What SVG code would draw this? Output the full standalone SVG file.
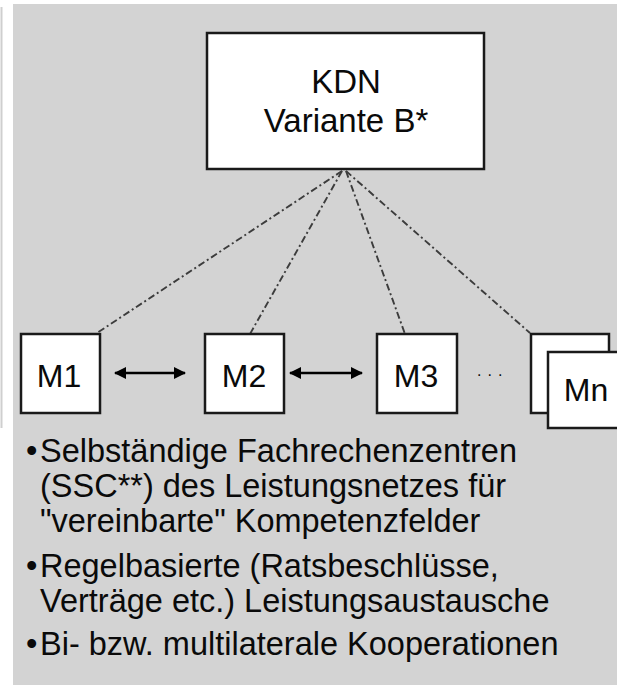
<svg xmlns="http://www.w3.org/2000/svg" width="617" height="685" viewBox="0 0 617 685">
<defs>
<style>
.box{fill:#fff;stroke:#1a1a1a;stroke-width:2.5}
.t{font-family:"Liberation Sans",Arial,sans-serif;fill:#0a0a0a}
.lbl{font-size:33px;text-anchor:middle}
.ml{font-size:32px;text-anchor:middle}
.bul{font-size:32.5px}
.dd{fill:none;stroke:#3c3c3c;stroke-width:1.9;stroke-dasharray:7 3 2 3}
.arr{stroke:#000;stroke-width:2.6;marker-start:url(#ah);marker-end:url(#ah)}
</style>
<marker id="ah" viewBox="0 0 12 12" refX="11" refY="6" markerWidth="13" markerHeight="12" orient="auto-start-reverse" markerUnits="userSpaceOnUse">
<path d="M0,0 L12,6 L0,12 z" fill="#000"/>
</marker>
</defs>
<rect x="0" y="0" width="617" height="685" fill="#fff"/>
<line x1="1.5" y1="7" x2="1.5" y2="428" stroke="#cfcfcf" stroke-width="2"/>
<rect x="13" y="4" width="604" height="681" fill="#d3d3d3"/>
<g id="connectors">
<line class="dd" x1="342" y1="171" x2="97" y2="333"/>
<line class="dd" x1="342" y1="171" x2="250" y2="334"/>
<line class="dd" x1="346" y1="171" x2="405" y2="334"/>
<line class="dd" x1="346" y1="171" x2="530" y2="333"/>
<line class="arr" x1="115" y1="373" x2="185" y2="373"/>
<line class="arr" x1="290" y1="373" x2="362" y2="373"/>
</g>
<g id="kdn">
<rect class="box" x="207" y="33" width="277" height="136"/>
<text class="t lbl" x="346" y="93">KDN</text>
<text class="t lbl" x="346" y="132">Variante B*</text>
</g>
<g id="m1">
<rect class="box" x="21" y="334" width="79" height="79"/>
<text class="t ml" x="59" y="387">M1</text>
</g>
<g id="m2">
<rect class="box" x="205" y="334" width="79" height="79"/>
<text class="t ml" x="244" y="387">M2</text>
</g>
<g id="m3">
<rect class="box" x="377" y="334" width="80" height="79"/>
<text class="t ml" x="416" y="387">M3</text>
</g>
<g id="dots">
<text class="t" x="477" y="376" font-size="16" letter-spacing="6" fill="#333">...</text>
</g>
<g id="mn">
<rect class="box" x="531" y="334" width="78" height="79"/>
<rect class="box" x="548" y="352" width="80" height="76"/>
<text class="t ml" x="586" y="401">Mn</text>
</g>
<g id="bullets">
<text class="t bul" x="26" y="462">•</text>
<text class="t bul" x="40" y="462">Selbständige Fachrechenzentren</text>
<text class="t bul" x="40" y="497">(SSC**) des Leistungsnetzes für</text>
<text class="t bul" x="40" y="532">"vereinbarte" Kompetenzfelder</text>
<text class="t bul" x="26" y="577">•</text>
<text class="t bul" x="40" y="577">Regelbasierte (Ratsbeschlüsse,</text>
<text class="t bul" x="40" y="612">Verträge etc.) Leistungsaustausche</text>
<text class="t bul" x="26" y="655">•</text>
<text class="t bul" x="40" y="655">Bi- bzw. multilaterale Kooperationen</text>
</g>
</svg>
